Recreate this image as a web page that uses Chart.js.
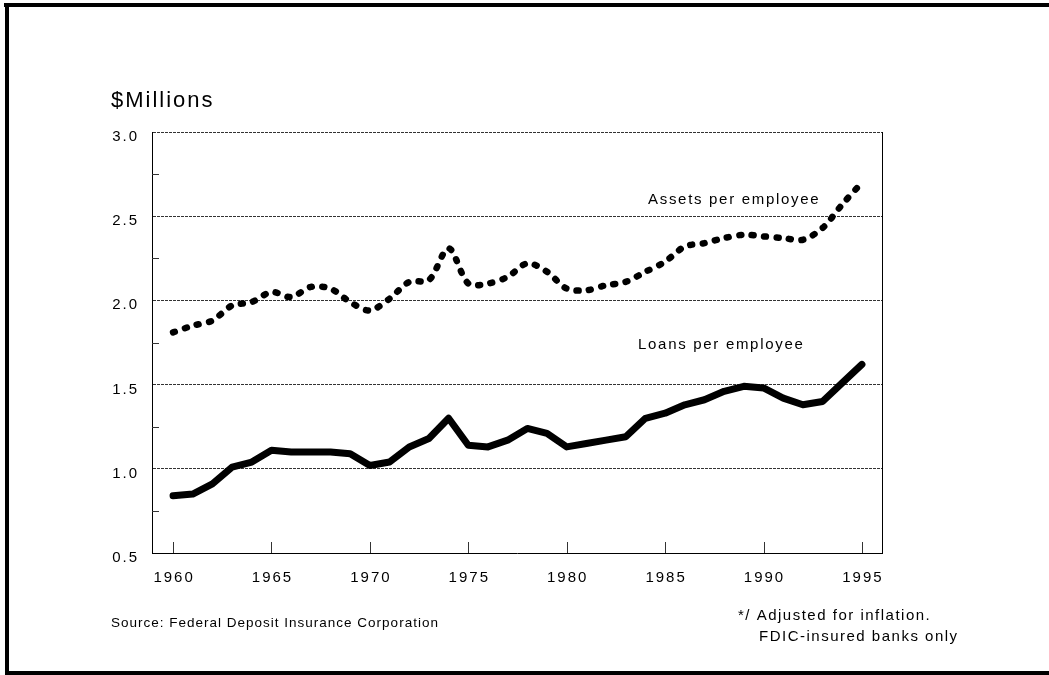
<!DOCTYPE html>
<html>
<head>
<meta charset="utf-8">
<script src="https://cdn.jsdelivr.net/npm/chart.js@4/dist/chart.umd.min.js"></script>
<style>
html, body { margin: 0; padding: 0; background: #fff; }
#wrap { position: relative; width: 1049px; height: 675px; }
</style>
</head>
<body>
<div id="wrap"><canvas id="chart" width="1049" height="675"></canvas></div>
<script>
// 年
const years = [1960, 1961, 1962, 1963, 1964, 1965, 1966, 1967, 1968, 1969,
               1970, 1971, 1972, 1973, 1974, 1975, 1976, 1977, 1978, 1979,
               1980, 1981, 1982, 1983, 1984, 1985, 1986, 1987, 1988, 1989,
               1990, 1991, 1992, 1993, 1994, 1995];

// 従業員一人当たり資産 ($Millions)
const assetsPerEmployee = [1.81, 1.85, 1.88, 1.97, 1.99, 2.05, 2.02, 2.08, 2.07, 1.99,
                           1.94, 2.01, 2.11, 2.12, 2.31, 2.10, 2.10, 2.14, 2.22, 2.17,
                           2.07, 2.06, 2.09, 2.11, 2.17, 2.23, 2.32, 2.34, 2.37, 2.39,
                           2.38, 2.37, 2.36, 2.43, 2.57, 2.70];

// 従業員一人当たり貸出 ($Millions)
const loansPerEmployee = [0.84, 0.85, 0.91, 1.01, 1.04, 1.11, 1.10, 1.10, 1.10, 1.09,
                          1.02, 1.04, 1.13, 1.18, 1.30, 1.14, 1.13, 1.17, 1.24, 1.21,
                          1.13, 1.15, 1.17, 1.19, 1.30, 1.33, 1.38, 1.41, 1.46, 1.49,
                          1.48, 1.42, 1.38, 1.40, 1.51, 1.62];

// 軸の目盛り
const xTickYears = [1960, 1965, 1970, 1975, 1980, 1985, 1990, 1995];
const yTickValues = [0.5, 1.0, 1.5, 2.0, 2.5, 3.0];
const yMinorValues = [0.75, 1.25, 1.75, 2.25, 2.75];

const FONT = '"Liberation Sans", Arial, sans-serif';

// テキストを描く（文字間隔つき）
function drawText(ctx, text, x, y, size, spacing, align) {
    ctx.save();
    ctx.font = size + 'px ' + FONT;
    ctx.fillStyle = '#000';
    ctx.letterSpacing = spacing + 'px';
    ctx.textBaseline = 'alphabetic';
    let w = ctx.measureText(text).width - spacing;
    let sx = x;
    if (align === 'right') sx = x - w;
    if (align === 'center') sx = x - w / 2;
    ctx.textAlign = 'left';
    ctx.fillText(text, sx, y);
    ctx.restore();
}

// 枠・目盛り・文字のプラグイン
const decorPlugin = {
    id: 'decor',
    afterDraw(chart) {
        const ctx = chart.ctx;
        const area = chart.chartArea;
        const xs = chart.scales.x;
        const ys = chart.scales.y;

        ctx.save();
        ctx.strokeStyle = '#000';
        ctx.lineWidth = 1;

        // 右側の枠線
        ctx.beginPath();
        ctx.moveTo(Math.round(area.right) + 0.5, area.top);
        ctx.lineTo(Math.round(area.right) + 0.5, area.bottom);
        ctx.stroke();

        // Y軸の小目盛り
        ctx.strokeStyle = '#333';
        yMinorValues.forEach(v => {
            const py = Math.round(ys.getPixelForValue(v)) + 0.5;
            ctx.beginPath();
            ctx.moveTo(area.left, py);
            ctx.lineTo(area.left + 7, py);
            ctx.stroke();
        });

        // X軸の目盛り（内向き）
        xTickYears.forEach(v => {
            const px = Math.round(xs.getPixelForValue(v)) + 0.5;
            ctx.beginPath();
            ctx.moveTo(px, area.bottom);
            ctx.lineTo(px, area.bottom - 11);
            ctx.stroke();
        });
        ctx.restore();

        // 目盛りラベル
        yTickValues.forEach(v => {
            const py = ys.getPixelForValue(v);
            drawText(ctx, v.toFixed(1), area.left - 15, py + 9, 15, 2, 'right');
        });
        xTickYears.forEach(v => {
            const px = xs.getPixelForValue(v);
            drawText(ctx, String(v), px, area.bottom + 29, 15, 2, 'center');
        });

        // 単位・系列名・注記
        drawText(ctx, '$Millions', 111, 107, 22, 2, 'left');
        drawText(ctx, 'Assets per employee', 648, 204, 15, 1.7, 'left');
        drawText(ctx, 'Loans per employee', 638, 349, 15, 1.7, 'left');
        drawText(ctx, 'Source: Federal Deposit Insurance Corporation', 111, 626.5, 13.5, 1, 'left');
        drawText(ctx, '*/ Adjusted for inflation.', 738, 620, 15, 1.5, 'left');
        drawText(ctx, 'FDIC-insured banks only', 759, 641, 15, 1.5, 'left');

        // 外枠（上・左・下）
        ctx.save();
        ctx.fillStyle = '#000';
        ctx.fillRect(4, 3, 1045, 4);
        ctx.fillRect(5, 3, 4, 672);
        ctx.fillRect(5, 671, 1044, 4);
        ctx.restore();
    }
};

const ctx = document.getElementById('chart').getContext('2d');
const chart = new Chart(ctx, {
    type: 'line',
    data: {
        datasets: [{
            label: 'Assets per employee',
            data: years.map((y, i) => ({ x: y, y: assetsPerEmployee[i] })),
            borderColor: '#000',
            borderWidth: 6.5,
            borderDash: [2, 10.5],
            borderCapStyle: 'round',
            borderJoinStyle: 'round',
            tension: 0.3,
            pointRadius: 0,
            fill: false
        }, {
            label: 'Loans per employee',
            data: years.map((y, i) => ({ x: y, y: loansPerEmployee[i] })),
            borderColor: '#000',
            borderWidth: 7,
            borderCapStyle: 'round',
            borderJoinStyle: 'round',
            tension: 0,
            pointRadius: 0,
            fill: false
        }]
    },
    options: {
        responsive: false,
        animation: false,
        layout: {
            padding: { left: 152, top: 132, right: 167, bottom: 122 }
        },
        plugins: {
            legend: { display: false },
            tooltip: { enabled: false }
        },
        scales: {
            x: {
                type: 'linear',
                min: 1958.93,
                max: 1996.02,
                ticks: { display: false },
                grid: { display: false, drawTicks: false },
                border: { display: true, color: '#000', width: 1 }
            },
            y: {
                min: 0.5,
                max: 3.0,
                ticks: { display: false, stepSize: 0.5 },
                grid: {
                    drawTicks: false,
                    lineWidth: 1,
                    color: c => (c.tick && c.tick.value === 0.5) ? 'rgba(0,0,0,0)' : '#333'
                },
                border: { display: true, color: '#000', width: 1, dash: [3, 1] }
            }
        }
    },
    plugins: [decorPlugin]
});
</script>
</body>
</html>
